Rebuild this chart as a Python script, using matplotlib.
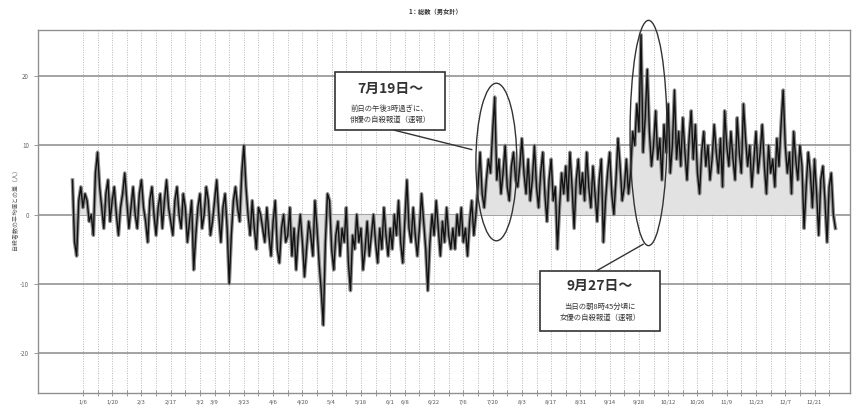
import datetime as dt
import numpy as np
import matplotlib
matplotlib.use("Agg")
import matplotlib.pyplot as plt
from matplotlib.patches import Ellipse, Rectangle

plt.rcParams['font.family'] = ['Noto Sans CJK JP', 'DejaVu Sans']

# ---- data: daily difference from average (persons), 2020 ----
jan = [5, -4, -6, 2, 4, 1, 3, 2, -1, 0, -3, 6, 9, 4, 1, -2, 3, 5, -1, 2, 4, 0, -3, 1, 3, 6, 2, -2, 1, 4, 0]
feb = [-2, 3, 5, 1, -1, -4, 2, 4, 0, -3, 1, 3, -2, 2, 5, 1, -1, -3, 2, 4, 0, -2, 3, 1, -4, -1, 2, -8, -3]
mar = [1, 3, -2, 0, 4, 2, -3, -1, 2, 5, 0, -4, 1, 3, -2, -10, -3, 2, 4, 1, -1, 6, 10, 4, 0, -3, 2, -2, -5, 1, 0]
apr = [-2, -4, 1, -3, -6, -1, 2, -5, -7, -2, 0, -4, -3, 1, -6, -2, -8, -3, 0, -4, -9, -5, -1, -3, -6, 2, -2, -7, -11, -16]
may = [-4, 3, 2, -5, -8, -3, -1, -6, -2, -4, 1, -7, -11, -3, -5, 0, -4, -2, -8, -5, -1, -6, -3, 0, -4, -7, -2, -5, 1, -3, -6]
jun = [-2, -5, 0, -3, 2, -4, -7, -1, 5, -2, -4, 1, -3, -6, -2, 3, -1, -5, -11, -4, 0, -3, 2, -2, -6, -1, -4, 1, -3, -5]
jul = [-2, -5, 0, -3, 1, -4, -2, -6, -1, 2, -3, 0, 4, 9, 3, 1, 5, 8, 6, 12, 17, 5, 8, 3, 6, 10, 4, 2, 7, 9, 5]
aug = [4, 7, 11, 6, 3, 8, 2, 5, 10, 4, 1, 6, 9, 3, -1, 5, 8, 2, 4, -5, 1, 6, 3, 7, 2, 9, 4, -2, 5, 8, 3]
sep = [6, 2, 9, 4, 1, 7, 3, -1, 5, 8, -4, 2, 6, 9, 3, 0, 5, 11, 7, 2, 4, 8, 3, 6, 12, 10, 16, 12, 26, 9]
octo = [14, 21, 12, 7, 10, 15, 8, 11, 5, 13, 9, 16, 6, 10, 18, 8, 12, 7, 14, 9, 5, 11, 15, 8, 13, 6, 3, 9, 12, 7, 10]
nov = [5, 8, 13, 9, 6, 11, 4, 15, 10, 7, 12, 8, 5, 14, 9, 6, 16, 11, 7, 10, 4, 8, 12, 6, 9, 13, 7, 3, 10, 6]
dec = [8, 4, 11, 7, 13, 18, 10, 6, 9, 3, 12, 8, 5, 10, 7, -2, 4, 9, 6, 1, 8, 3, -3, 5, 7, 2, -4, 4, 6, 0, -2]

tick_labels = ['1/6', '1/20', '2/3', '2/17', '3/2', '3/9', '3/23', '4/6', '4/20', '5/4', '5/18',
               '6/1', '6/8', '6/22', '7/6', '7/20', '8/3', '8/17', '8/31', '9/14', '9/28',
               '10/12', '10/26', '11/9', '11/23', '12/7', '12/21']
y_ticks = [20, 10, 0, -10, -20]

title = '1：総数（男女計）'
ylabel = '自殺者数の平均値との差（人）'
note1_head = '7月19日～'
note1_body = '前日の午後3時過ぎに、\n俳優の自殺報道（速報）'
note2_head = '9月27日～'
note2_body = '当日の朝8時45分頃に\n女優の自殺報道（速報）'

values = np.array(jan + feb + mar + apr + may + jun + jul + aug + sep + octo + nov + dec, dtype=float)
days = np.arange(len(values))
start = dt.date(2020, 1, 1)

def doy(label):
    m, d = map(int, label.split('/'))
    return (dt.date(2020, m, d) - start).days

tick_pos = [doy(t) for t in tick_labels]
weekly = list(range(doy('1/6'), 366, 7))

fig = plt.figure(figsize=(8.63, 4.17), dpi=100)
ax = fig.add_axes([0.044, 0.058, 0.941, 0.870])

ax.set_xlim(-16.5, 372)
ax.set_ylim(-25.8, 26.7)

# grid
for w in weekly:
    ax.axvline(w, color='#b8b8b8', lw=0.7, ls=(0, (1, 1.5)), zorder=0)
for yv in y_ticks:
    ax.axhline(yv, color='#8a8a8a', lw=1.1, zorder=0.5)

ax.fill_between(days, values, 0, color='#e2e2e2', lw=0, zorder=1)
ax.plot(days, values, color='#8c8c8c', lw=2.6, zorder=2)
ax.plot(days, values, color='#111111', lw=1.0, zorder=3)

ax.set_xticks(tick_pos)
ax.set_xticklabels(tick_labels, fontsize=4.2, color='#555555')
ax.set_xticks(weekly, minor=True)
ax.set_yticks(y_ticks)
ax.set_yticklabels([str(v) for v in y_ticks], fontsize=4.5, color='#666666')
ax.tick_params(axis='both', which='both', color='#888888', length=3, width=0.6)
ax.tick_params(axis='x', which='both', direction='inout', length=4)
for s in ax.spines.values():
    s.set_color('#909090')
    s.set_linewidth(1.0)

fig.text(0.504, 0.972, title, ha='center', va='center', fontsize=4.5, fontweight='bold', color='#333333')
fig.text(0.018, 0.5, ylabel, rotation=90, ha='center', va='center', fontsize=4.3, color='#555555')

# annotation 1
ax.add_patch(Rectangle((125.6, 12.2), 52.6, 8.4, fill=True, facecolor='white',
                       edgecolor='#333333', lw=1.2, zorder=5))
ax.text(151.9, 18.2, note1_head, ha='center', va='center', fontsize=10, fontweight='bold', color='#333333', zorder=6)
ax.text(151.9, 14.5, note1_body, ha='center', va='center', fontsize=5.3, linespacing=1.5, color='#333333', zorder=6)
ax.plot([154, 191], [12.2, 9.4], color='#333333', lw=1.0, zorder=5)
ax.add_patch(Ellipse((202.8, 7.6), 19.6, 22.8, fill=False, edgecolor='#333333', lw=1.0, zorder=5))

# annotation 2
ax.add_patch(Rectangle((223.7, -16.8), 57.3, 8.7, fill=True, facecolor='white',
                       edgecolor='#333333', lw=1.2, zorder=5))
ax.text(252.3, -10.4, note2_head, ha='center', va='center', fontsize=10, fontweight='bold', color='#333333', zorder=6)
ax.text(252.3, -14.2, note2_body, ha='center', va='center', fontsize=5.3, linespacing=1.5, color='#333333', zorder=6)
ax.plot([251, 273], [-8.1, -4.3], color='#333333', lw=1.0, zorder=5)
ax.add_patch(Ellipse((275.6, 11.8), 17.7, 32.6, fill=False, edgecolor='#333333', lw=1.0,
                     zorder=5, clip_on=False))

fig.savefig('out.png', dpi=100)
